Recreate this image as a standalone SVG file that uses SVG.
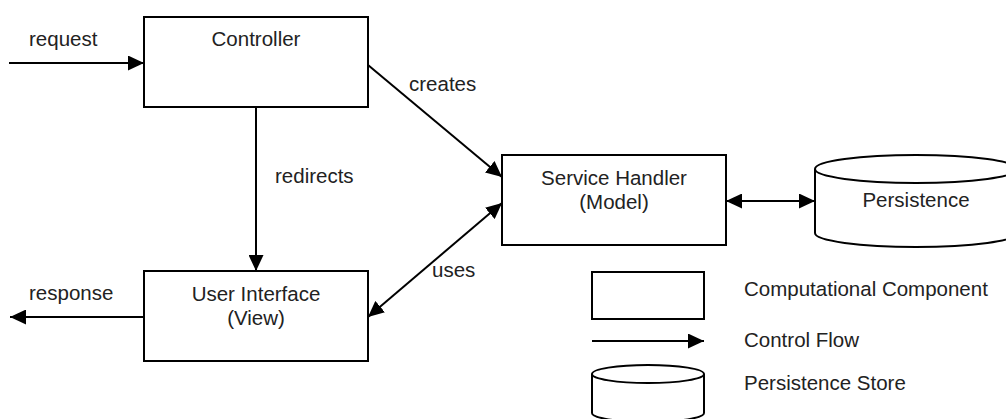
<svg xmlns="http://www.w3.org/2000/svg" width="1006" height="419" viewBox="0 0 1006 419">
  <defs>
    <style>
      .box { fill: #ffffff; stroke: #000000; stroke-width: 2; }
      .cyl { fill: #ffffff; stroke: #000000; stroke-width: 2; }
      .edge { fill: none; stroke: #000000; stroke-width: 2; }
      .lbl { font-family: "Liberation Sans", Arial, sans-serif; font-size: 20.5px; fill: #222222; }
      .mid { text-anchor: middle; }
    </style>
    <marker id="arrow" viewBox="0 0 16 15" refX="16" refY="7.5" markerWidth="16" markerHeight="15" markerUnits="userSpaceOnUse" orient="auto-start-reverse">
      <path d="M0,0 L16,7.5 L0,15 Z" fill="#000000"/>
    </marker>
  </defs>

  <rect width="1006" height="419" fill="#ffffff"/>

  <!-- connectors -->
  <g id="connectors">
    <line class="edge" x1="9" y1="63" x2="144" y2="63" marker-end="url(#arrow)"/>
    <text class="lbl" x="29" y="46">request</text>

    <line class="edge" x1="368" y1="65" x2="502" y2="177" marker-end="url(#arrow)"/>
    <text class="lbl" x="409" y="91">creates</text>

    <line class="edge" x1="256" y1="107" x2="256" y2="271" marker-end="url(#arrow)"/>
    <text class="lbl" x="275" y="183">redirects</text>

    <line class="edge" x1="502" y1="203" x2="368" y2="317" marker-start="url(#arrow)" marker-end="url(#arrow)"/>
    <text class="lbl" x="432" y="277">uses</text>

    <line class="edge" x1="726" y1="201" x2="815" y2="201" marker-start="url(#arrow)" marker-end="url(#arrow)"/>

    <line class="edge" x1="144" y1="317" x2="10" y2="317" marker-end="url(#arrow)"/>
    <text class="lbl" x="29" y="300">response</text>
  </g>

  <!-- components -->
  <g id="controller">
    <rect class="box" x="144" y="17" width="224" height="90"/>
    <text class="lbl mid" x="256" y="46">Controller</text>
  </g>

  <g id="service-handler">
    <rect class="box" x="502" y="155" width="224" height="90"/>
    <text class="lbl mid" x="614" y="185">Service Handler</text>
    <text class="lbl mid" x="614" y="209">(Model)</text>
  </g>

  <g id="user-interface">
    <rect class="box" x="144" y="271" width="224" height="90"/>
    <text class="lbl mid" x="256" y="301">User Interface</text>
    <text class="lbl mid" x="256" y="325">(View)</text>
  </g>

  <g id="persistence">
    <path class="cyl" d="M815,169 L815,233 A101,14 0 0 0 1017,233 L1017,169"/>
    <ellipse class="cyl" cx="916" cy="169" rx="101" ry="14"/>
    <text class="lbl mid" x="916" y="207">Persistence</text>
  </g>

  <!-- legend -->
  <g id="legend">
    <rect class="box" x="592" y="272" width="112" height="47"/>
    <text class="lbl" x="744" y="296">Computational Component</text>

    <line class="edge" x1="592" y1="341" x2="704" y2="341" marker-end="url(#arrow)"/>
    <text class="lbl" x="744" y="347">Control Flow</text>

    <path class="cyl" d="M592,374 L592,413 A56,9 0 0 0 704,413 L704,374"/>
    <ellipse class="cyl" cx="648" cy="374" rx="56" ry="9"/>
    <text class="lbl" x="744" y="390">Persistence Store</text>
  </g>
</svg>
